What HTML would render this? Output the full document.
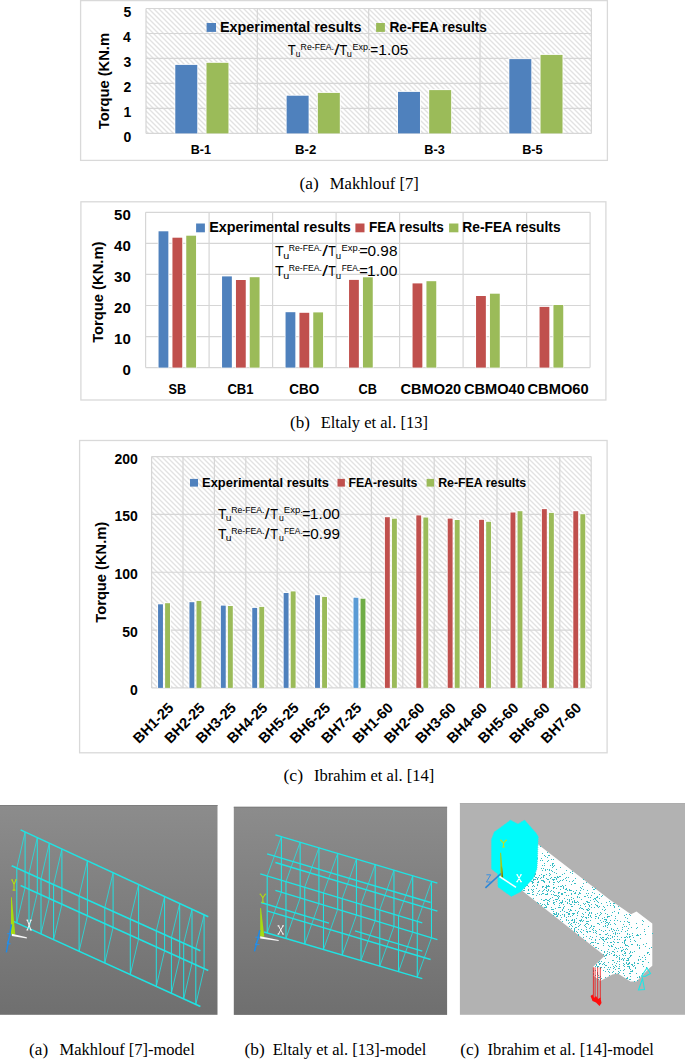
<!DOCTYPE html>
<html><head><meta charset="utf-8"><title>Figure</title>
<style>
html,body{margin:0;padding:0;background:#fff;width:685px;height:1059px;overflow:hidden}
svg{display:block}
text{font-family:"Liberation Sans",sans-serif}
</style></head><body>
<svg width="685" height="1059" viewBox="0 0 685 1059">
<defs>
<pattern id="hatch" patternUnits="userSpaceOnUse" width="5" height="5">
<rect width="5" height="5" fill="#fff"/>
<path d="M-1,-1 L6,6 M-1,4 L1,6 M4,-1 L6,1" stroke="#e2e2e2" stroke-width="1.35"/>
</pattern>
<linearGradient id="gA" x1="0" y1="0" x2="0" y2="1"><stop offset="0" stop-color="#8c8c8c"/><stop offset="1" stop-color="#6f6f6f"/></linearGradient>
<pattern id="dots" patternUnits="userSpaceOnUse" width="13" height="11">
<rect x="1" y="2" width="1" height="1" fill="#3cc4c4"/><rect x="7" y="1" width="1" height="1" fill="#3cc4c4"/><rect x="4" y="6" width="1" height="1" fill="#3cc4c4"/><rect x="10" y="5" width="1" height="1" fill="#3cc4c4"/><rect x="2" y="9" width="1" height="1" fill="#3cc4c4"/><rect x="9" y="9" width="1" height="1" fill="#3cc4c4"/><rect x="12" y="8" width="1" height="1" fill="#3cc4c4"/>
</pattern>
</defs>
<rect x="80.6" y="0.6" width="526.8" height="159.8" fill="none" stroke="#d9d9d9" stroke-width="1.3"/>
<rect x="146" y="8.5" width="445.4" height="124.9" fill="url(#hatch)"/>
<line x1="146" y1="8.5" x2="591.4" y2="8.5" stroke="#d6d6d6" stroke-width="1.2"/>
<line x1="146" y1="33.48" x2="591.4" y2="33.48" stroke="#d6d6d6" stroke-width="1.2"/>
<line x1="146" y1="58.46" x2="591.4" y2="58.46" stroke="#d6d6d6" stroke-width="1.2"/>
<line x1="146" y1="83.44" x2="591.4" y2="83.44" stroke="#d6d6d6" stroke-width="1.2"/>
<line x1="146" y1="108.42" x2="591.4" y2="108.42" stroke="#d6d6d6" stroke-width="1.2"/>
<line x1="146" y1="133.4" x2="591.4" y2="133.4" stroke="#d6d6d6" stroke-width="1.2"/>
<line x1="146" y1="8.5" x2="146" y2="133.4" stroke="#d6d6d6" stroke-width="1.2"/>
<line x1="257.35" y1="8.5" x2="257.35" y2="133.4" stroke="#d6d6d6" stroke-width="1.2"/>
<line x1="368.7" y1="8.5" x2="368.7" y2="133.4" stroke="#d6d6d6" stroke-width="1.2"/>
<line x1="480.05" y1="8.5" x2="480.05" y2="133.4" stroke="#d6d6d6" stroke-width="1.2"/>
<line x1="591.4" y1="8.5" x2="591.4" y2="133.4" stroke="#d6d6d6" stroke-width="1.2"/>
<rect x="174.47" y="64.1" width="23.6" height="69.3" fill="#fff"/>
<rect x="175.28" y="64.9" width="22" height="68.5" fill="#4F81BD"/>
<rect x="205.68" y="62" width="23.6" height="71.4" fill="#fff"/>
<rect x="206.48" y="62.8" width="22" height="70.6" fill="#9BBB59"/>
<rect x="285.82" y="94.9" width="23.6" height="38.5" fill="#fff"/>
<rect x="286.62" y="95.7" width="22" height="37.7" fill="#4F81BD"/>
<rect x="317.02" y="92.1" width="23.6" height="41.3" fill="#fff"/>
<rect x="317.82" y="92.9" width="22" height="40.5" fill="#9BBB59"/>
<rect x="397.18" y="91.1" width="23.6" height="42.3" fill="#fff"/>
<rect x="397.98" y="91.9" width="22" height="41.5" fill="#4F81BD"/>
<rect x="428.38" y="89.3" width="23.6" height="44.1" fill="#fff"/>
<rect x="429.18" y="90.1" width="22" height="43.3" fill="#9BBB59"/>
<rect x="508.52" y="58.3" width="23.6" height="75.1" fill="#fff"/>
<rect x="509.32" y="59.1" width="22" height="74.3" fill="#4F81BD"/>
<rect x="539.72" y="54.1" width="23.6" height="79.3" fill="#fff"/>
<rect x="540.52" y="54.9" width="22" height="78.5" fill="#9BBB59"/>
<text x="123.38" y="16.7" font-size="14" font-weight="bold" style="font-family:&quot;Liberation Sans&quot;,sans-serif" textLength="7.79" lengthAdjust="spacingAndGlyphs" fill="#000">5</text>
<text x="123.1" y="41.7" font-size="14" font-weight="bold" style="font-family:&quot;Liberation Sans&quot;,sans-serif" textLength="7.79" lengthAdjust="spacingAndGlyphs" fill="#000">4</text>
<text x="123.52" y="66.7" font-size="14" font-weight="bold" style="font-family:&quot;Liberation Sans&quot;,sans-serif" textLength="7.79" lengthAdjust="spacingAndGlyphs" fill="#000">3</text>
<text x="123.59" y="91.7" font-size="14" font-weight="bold" style="font-family:&quot;Liberation Sans&quot;,sans-serif" textLength="7.79" lengthAdjust="spacingAndGlyphs" fill="#000">2</text>
<text x="123.38" y="116.7" font-size="14" font-weight="bold" style="font-family:&quot;Liberation Sans&quot;,sans-serif" textLength="7.79" lengthAdjust="spacingAndGlyphs" fill="#000">1</text>
<text x="123.59" y="141.7" font-size="14" font-weight="bold" style="font-family:&quot;Liberation Sans&quot;,sans-serif" textLength="7.79" lengthAdjust="spacingAndGlyphs" fill="#000">0</text>
<text x="-0.15" y="0" font-size="15" font-weight="bold" style="font-family:&quot;Liberation Sans&quot;,sans-serif" textLength="96.18" lengthAdjust="spacingAndGlyphs" fill="#000" transform="translate(109.1,129) rotate(-90)">Torque (KN.m</text>
<rect x="206.6" y="23" width="9.4" height="8.9" fill="#4F81BD"/>
<text x="219.97" y="32" font-size="14.3" font-weight="bold" style="font-family:&quot;Liberation Sans&quot;,sans-serif" textLength="141.45" lengthAdjust="spacingAndGlyphs" fill="#000">Experimental results</text>
<rect x="376.1" y="23" width="8.8" height="8.9" fill="#9BBB59"/>
<text x="389.51" y="32" font-size="14.3" font-weight="bold" style="font-family:&quot;Liberation Sans&quot;,sans-serif" textLength="97.35" lengthAdjust="spacingAndGlyphs" fill="#000">Re-FEA results</text>
<text x="190.78" y="153.6" font-size="12.6" font-weight="bold" style="font-family:&quot;Liberation Sans&quot;,sans-serif" textLength="20.25" lengthAdjust="spacingAndGlyphs" fill="#000">B-1</text>
<text x="295.14" y="153.6" font-size="12.6" font-weight="bold" style="font-family:&quot;Liberation Sans&quot;,sans-serif" textLength="21.2" lengthAdjust="spacingAndGlyphs" fill="#000">B-2</text>
<text x="424.37" y="153.6" font-size="12.6" font-weight="bold" style="font-family:&quot;Liberation Sans&quot;,sans-serif" textLength="20.49" lengthAdjust="spacingAndGlyphs" fill="#000">B-3</text>
<text x="522.17" y="153.6" font-size="12.6" font-weight="bold" style="font-family:&quot;Liberation Sans&quot;,sans-serif" textLength="20.46" lengthAdjust="spacingAndGlyphs" fill="#000">B-5</text>
<text x="287.64" y="54.7" font-size="15.2" style="font-family:&quot;Liberation Sans&quot;,sans-serif" textLength="8.04" lengthAdjust="spacingAndGlyphs" fill="#000">T</text>
<text x="295.66" y="57.1" font-size="9" style="font-family:&quot;Liberation Sans&quot;,sans-serif" textLength="4.58" lengthAdjust="spacingAndGlyphs" fill="#000">u</text>
<text x="300.6" y="49.6" font-size="9" style="font-family:&quot;Liberation Sans&quot;,sans-serif" textLength="33.42" lengthAdjust="spacingAndGlyphs" fill="#000">Re-FEA.</text>
<text x="334.2" y="54.7" font-size="15.2" style="font-family:&quot;Liberation Sans&quot;,sans-serif" textLength="5.26" lengthAdjust="spacingAndGlyphs" fill="#000">/</text>
<text x="339.24" y="54.7" font-size="15.2" style="font-family:&quot;Liberation Sans&quot;,sans-serif" textLength="8.04" lengthAdjust="spacingAndGlyphs" fill="#000">T</text>
<text x="346.8" y="57.1" font-size="9" style="font-family:&quot;Liberation Sans&quot;,sans-serif" textLength="5.1" lengthAdjust="spacingAndGlyphs" fill="#000">u</text>
<text x="352.58" y="49.6" font-size="9" style="font-family:&quot;Liberation Sans&quot;,sans-serif" textLength="17.93" lengthAdjust="spacingAndGlyphs" fill="#000">Exp.</text>
<text x="370.32" y="54.7" font-size="15.2" style="font-family:&quot;Liberation Sans&quot;,sans-serif" textLength="7.95" lengthAdjust="spacingAndGlyphs" fill="#000">=</text>
<text x="378.34" y="54.7" font-size="15.2" style="font-family:&quot;Liberation Sans&quot;,sans-serif" textLength="29.99" lengthAdjust="spacingAndGlyphs" fill="#000">1.05</text>
<text x="299.42" y="188.8" font-size="16.2" style="font-family:&quot;Liberation Serif&quot;,serif" textLength="19.26" lengthAdjust="spacingAndGlyphs" fill="#000">(a)</text>
<text x="329.8" y="188.8" font-size="16.2" style="font-family:&quot;Liberation Serif&quot;,serif" textLength="88.94" lengthAdjust="spacingAndGlyphs" fill="#000">Makhlouf [7]</text>
<rect x="80.9" y="201.8" width="525" height="198.2" fill="none" stroke="#d9d9d9" stroke-width="1.3"/>
<line x1="145.6" y1="212.3" x2="590.1" y2="212.3" stroke="#d6d6d6" stroke-width="1.2"/>
<line x1="145.6" y1="243.36" x2="590.1" y2="243.36" stroke="#d6d6d6" stroke-width="1.2"/>
<line x1="145.6" y1="274.42" x2="590.1" y2="274.42" stroke="#d6d6d6" stroke-width="1.2"/>
<line x1="145.6" y1="305.48" x2="590.1" y2="305.48" stroke="#d6d6d6" stroke-width="1.2"/>
<line x1="145.6" y1="336.54" x2="590.1" y2="336.54" stroke="#d6d6d6" stroke-width="1.2"/>
<line x1="145.6" y1="367.6" x2="590.1" y2="367.6" stroke="#d6d6d6" stroke-width="1.2"/>
<line x1="145.6" y1="212.3" x2="145.6" y2="367.6" stroke="#d6d6d6" stroke-width="1.2"/>
<line x1="209.1" y1="212.3" x2="209.1" y2="367.6" stroke="#d6d6d6" stroke-width="1.2"/>
<line x1="272.6" y1="212.3" x2="272.6" y2="367.6" stroke="#d6d6d6" stroke-width="1.2"/>
<line x1="336.1" y1="212.3" x2="336.1" y2="367.6" stroke="#d6d6d6" stroke-width="1.2"/>
<line x1="399.6" y1="212.3" x2="399.6" y2="367.6" stroke="#d6d6d6" stroke-width="1.2"/>
<line x1="463.1" y1="212.3" x2="463.1" y2="367.6" stroke="#d6d6d6" stroke-width="1.2"/>
<line x1="526.6" y1="212.3" x2="526.6" y2="367.6" stroke="#d6d6d6" stroke-width="1.2"/>
<line x1="590.1" y1="212.3" x2="590.1" y2="367.6" stroke="#d6d6d6" stroke-width="1.2"/>
<rect x="157.75" y="230.5" width="11.4" height="137.1" fill="#fff"/>
<rect x="158.55" y="231.3" width="9.8" height="136.3" fill="#4F81BD"/>
<rect x="171.65" y="236.9" width="11.4" height="130.7" fill="#fff"/>
<rect x="172.45" y="237.7" width="9.8" height="129.9" fill="#C0504D"/>
<rect x="185.45" y="234.9" width="11.4" height="132.7" fill="#fff"/>
<rect x="186.25" y="235.7" width="9.8" height="131.9" fill="#9BBB59"/>
<rect x="221.25" y="275.6" width="11.4" height="92" fill="#fff"/>
<rect x="222.05" y="276.4" width="9.8" height="91.2" fill="#4F81BD"/>
<rect x="235.15" y="279.2" width="11.4" height="88.4" fill="#fff"/>
<rect x="235.95" y="280" width="9.8" height="87.6" fill="#C0504D"/>
<rect x="248.95" y="276.4" width="11.4" height="91.2" fill="#fff"/>
<rect x="249.75" y="277.2" width="9.8" height="90.4" fill="#9BBB59"/>
<rect x="284.75" y="311.4" width="11.4" height="56.2" fill="#fff"/>
<rect x="285.55" y="312.2" width="9.8" height="55.4" fill="#4F81BD"/>
<rect x="298.65" y="312" width="11.4" height="55.6" fill="#fff"/>
<rect x="299.45" y="312.8" width="9.8" height="54.8" fill="#C0504D"/>
<rect x="312.45" y="311.6" width="11.4" height="56" fill="#fff"/>
<rect x="313.25" y="312.4" width="9.8" height="55.2" fill="#9BBB59"/>
<rect x="348.25" y="279.1" width="11.4" height="88.5" fill="#fff"/>
<rect x="349.05" y="279.9" width="9.8" height="87.7" fill="#C0504D"/>
<rect x="362.15" y="276.5" width="11.4" height="91.1" fill="#fff"/>
<rect x="362.95" y="277.3" width="9.8" height="90.3" fill="#9BBB59"/>
<rect x="411.75" y="282.6" width="11.4" height="85" fill="#fff"/>
<rect x="412.55" y="283.4" width="9.8" height="84.2" fill="#C0504D"/>
<rect x="425.65" y="280.4" width="11.4" height="87.2" fill="#fff"/>
<rect x="426.45" y="281.2" width="9.8" height="86.4" fill="#9BBB59"/>
<rect x="475.25" y="295.2" width="11.4" height="72.4" fill="#fff"/>
<rect x="476.05" y="296" width="9.8" height="71.6" fill="#C0504D"/>
<rect x="489.15" y="292.9" width="11.4" height="74.7" fill="#fff"/>
<rect x="489.95" y="293.7" width="9.8" height="73.9" fill="#9BBB59"/>
<rect x="538.75" y="306.1" width="11.4" height="61.5" fill="#fff"/>
<rect x="539.55" y="306.9" width="9.8" height="60.7" fill="#C0504D"/>
<rect x="552.65" y="304.2" width="11.4" height="63.4" fill="#fff"/>
<rect x="553.45" y="305" width="9.8" height="62.6" fill="#9BBB59"/>
<text x="114.05" y="220.1" font-size="15" font-weight="bold" style="font-family:&quot;Liberation Sans&quot;,sans-serif" textLength="16.69" lengthAdjust="spacingAndGlyphs" fill="#000">50</text>
<text x="114.05" y="251.16" font-size="15" font-weight="bold" style="font-family:&quot;Liberation Sans&quot;,sans-serif" textLength="16.69" lengthAdjust="spacingAndGlyphs" fill="#000">40</text>
<text x="114.05" y="282.22" font-size="15" font-weight="bold" style="font-family:&quot;Liberation Sans&quot;,sans-serif" textLength="16.69" lengthAdjust="spacingAndGlyphs" fill="#000">30</text>
<text x="114.05" y="313.28" font-size="15" font-weight="bold" style="font-family:&quot;Liberation Sans&quot;,sans-serif" textLength="16.69" lengthAdjust="spacingAndGlyphs" fill="#000">20</text>
<text x="114.05" y="344.34" font-size="15" font-weight="bold" style="font-family:&quot;Liberation Sans&quot;,sans-serif" textLength="16.69" lengthAdjust="spacingAndGlyphs" fill="#000">10</text>
<text x="122.38" y="375.4" font-size="15" font-weight="bold" style="font-family:&quot;Liberation Sans&quot;,sans-serif" textLength="8.34" lengthAdjust="spacingAndGlyphs" fill="#000">0</text>
<text x="-0.15" y="0" font-size="15" font-weight="bold" style="font-family:&quot;Liberation Sans&quot;,sans-serif" textLength="101.28" lengthAdjust="spacingAndGlyphs" fill="#000" transform="translate(103.4,342.7) rotate(-90)">Torque (KN.m)</text>
<rect x="196.1" y="223.5" width="8.8" height="8.8" fill="#4F81BD"/>
<text x="209.16" y="232.3" font-size="14.6" font-weight="bold" style="font-family:&quot;Liberation Sans&quot;,sans-serif" textLength="141.65" lengthAdjust="spacingAndGlyphs" fill="#000">Experimental results</text>
<rect x="355.4" y="223.5" width="9.1" height="8.8" fill="#C0504D"/>
<text x="368.92" y="232.3" font-size="14.6" font-weight="bold" style="font-family:&quot;Liberation Sans&quot;,sans-serif" textLength="75.03" lengthAdjust="spacingAndGlyphs" fill="#000">FEA results</text>
<rect x="449.1" y="223.5" width="9.3" height="8.8" fill="#9BBB59"/>
<text x="462.3" y="232.3" font-size="14.6" font-weight="bold" style="font-family:&quot;Liberation Sans&quot;,sans-serif" textLength="98.27" lengthAdjust="spacingAndGlyphs" fill="#000">Re-FEA results</text>
<text x="274.91" y="255.8" font-size="15.2" style="font-family:&quot;Liberation Sans&quot;,sans-serif" textLength="8.79" lengthAdjust="spacingAndGlyphs" fill="#000">T</text>
<text x="283.3" y="258.7" font-size="9" style="font-family:&quot;Liberation Sans&quot;,sans-serif" textLength="6.02" lengthAdjust="spacingAndGlyphs" fill="#000">u</text>
<text x="288.81" y="250.8" font-size="9" style="font-family:&quot;Liberation Sans&quot;,sans-serif" textLength="33.21" lengthAdjust="spacingAndGlyphs" fill="#000">Re-FEA.</text>
<text x="322.2" y="255.8" font-size="15.2" style="font-family:&quot;Liberation Sans&quot;,sans-serif" textLength="5.75" lengthAdjust="spacingAndGlyphs" fill="#000">/</text>
<text x="328.15" y="255.8" font-size="15.2" style="font-family:&quot;Liberation Sans&quot;,sans-serif" textLength="7.61" lengthAdjust="spacingAndGlyphs" fill="#000">T</text>
<text x="335.87" y="258.7" font-size="9" style="font-family:&quot;Liberation Sans&quot;,sans-serif" textLength="5.37" lengthAdjust="spacingAndGlyphs" fill="#000">u</text>
<text x="341.55" y="250.8" font-size="9" style="font-family:&quot;Liberation Sans&quot;,sans-serif" textLength="18.7" lengthAdjust="spacingAndGlyphs" fill="#000">Exp.</text>
<text x="359.26" y="255.8" font-size="15.2" style="font-family:&quot;Liberation Sans&quot;,sans-serif" textLength="8.67" lengthAdjust="spacingAndGlyphs" fill="#000">=</text>
<text x="367.59" y="255.8" font-size="15.2" style="font-family:&quot;Liberation Sans&quot;,sans-serif" textLength="29.85" lengthAdjust="spacingAndGlyphs" fill="#000">0.98</text>
<text x="274.91" y="275.9" font-size="15.2" style="font-family:&quot;Liberation Sans&quot;,sans-serif" textLength="8.79" lengthAdjust="spacingAndGlyphs" fill="#000">T</text>
<text x="283.3" y="278.5" font-size="9" style="font-family:&quot;Liberation Sans&quot;,sans-serif" textLength="6.02" lengthAdjust="spacingAndGlyphs" fill="#000">u</text>
<text x="288.81" y="270.9" font-size="9" style="font-family:&quot;Liberation Sans&quot;,sans-serif" textLength="33.21" lengthAdjust="spacingAndGlyphs" fill="#000">Re-FEA.</text>
<text x="322.2" y="275.9" font-size="15.2" style="font-family:&quot;Liberation Sans&quot;,sans-serif" textLength="5.75" lengthAdjust="spacingAndGlyphs" fill="#000">/</text>
<text x="328.15" y="275.9" font-size="15.2" style="font-family:&quot;Liberation Sans&quot;,sans-serif" textLength="7.61" lengthAdjust="spacingAndGlyphs" fill="#000">T</text>
<text x="335.87" y="278.5" font-size="9" style="font-family:&quot;Liberation Sans&quot;,sans-serif" textLength="5.37" lengthAdjust="spacingAndGlyphs" fill="#000">u</text>
<text x="341.63" y="270.9" font-size="9" style="font-family:&quot;Liberation Sans&quot;,sans-serif" textLength="18.54" lengthAdjust="spacingAndGlyphs" fill="#000">FEA.</text>
<text x="359.26" y="275.9" font-size="15.2" style="font-family:&quot;Liberation Sans&quot;,sans-serif" textLength="8.67" lengthAdjust="spacingAndGlyphs" fill="#000">=</text>
<text x="367.03" y="275.9" font-size="15.2" style="font-family:&quot;Liberation Sans&quot;,sans-serif" textLength="30.34" lengthAdjust="spacingAndGlyphs" fill="#000">1.00</text>
<text x="168.42" y="393.7" font-size="14.4" font-weight="bold" style="font-family:&quot;Liberation Sans&quot;,sans-serif" textLength="17.71" lengthAdjust="spacingAndGlyphs" fill="#000">SB</text>
<text x="227.38" y="393.7" font-size="14.4" font-weight="bold" style="font-family:&quot;Liberation Sans&quot;,sans-serif" textLength="26.05" lengthAdjust="spacingAndGlyphs" fill="#000">CB1</text>
<text x="289.26" y="393.7" font-size="14.4" font-weight="bold" style="font-family:&quot;Liberation Sans&quot;,sans-serif" textLength="29.91" lengthAdjust="spacingAndGlyphs" fill="#000">CBO</text>
<text x="358.59" y="393.7" font-size="14.4" font-weight="bold" style="font-family:&quot;Liberation Sans&quot;,sans-serif" textLength="18.33" lengthAdjust="spacingAndGlyphs" fill="#000">CB</text>
<text x="400.62" y="393.7" font-size="14.4" font-weight="bold" style="font-family:&quot;Liberation Sans&quot;,sans-serif" textLength="60.6" lengthAdjust="spacingAndGlyphs" fill="#000">CBMO20</text>
<text x="463.92" y="393.7" font-size="14.4" font-weight="bold" style="font-family:&quot;Liberation Sans&quot;,sans-serif" textLength="60.91" lengthAdjust="spacingAndGlyphs" fill="#000">CBMO40</text>
<text x="527.51" y="393.7" font-size="14.4" font-weight="bold" style="font-family:&quot;Liberation Sans&quot;,sans-serif" textLength="61.21" lengthAdjust="spacingAndGlyphs" fill="#000">CBMO60</text>
<text x="290.13" y="427.6" font-size="16.2" style="font-family:&quot;Liberation Serif&quot;,serif" textLength="19.87" lengthAdjust="spacingAndGlyphs" fill="#000">(b)</text>
<text x="320.7" y="427.6" font-size="16.2" style="font-family:&quot;Liberation Serif&quot;,serif" textLength="107.29" lengthAdjust="spacingAndGlyphs" fill="#000">Eltaly et al. [13]</text>
<rect x="79.6" y="440.5" width="527.5" height="312.3" fill="none" stroke="#d9d9d9" stroke-width="1.3"/>
<rect x="151.6" y="456.6" width="439.6" height="231.3" fill="url(#hatch)"/>
<line x1="151.6" y1="456.6" x2="591.2" y2="456.6" stroke="#d6d6d6" stroke-width="1.2"/>
<line x1="151.6" y1="514.42" x2="591.2" y2="514.42" stroke="#d6d6d6" stroke-width="1.2"/>
<line x1="151.6" y1="572.25" x2="591.2" y2="572.25" stroke="#d6d6d6" stroke-width="1.2"/>
<line x1="151.6" y1="630.08" x2="591.2" y2="630.08" stroke="#d6d6d6" stroke-width="1.2"/>
<line x1="151.6" y1="687.9" x2="591.2" y2="687.9" stroke="#d6d6d6" stroke-width="1.2"/>
<line x1="151.6" y1="456.6" x2="151.6" y2="687.9" stroke="#d6d6d6" stroke-width="1.2"/>
<line x1="183" y1="456.6" x2="183" y2="687.9" stroke="#d6d6d6" stroke-width="1.2"/>
<line x1="214.4" y1="456.6" x2="214.4" y2="687.9" stroke="#d6d6d6" stroke-width="1.2"/>
<line x1="245.8" y1="456.6" x2="245.8" y2="687.9" stroke="#d6d6d6" stroke-width="1.2"/>
<line x1="277.2" y1="456.6" x2="277.2" y2="687.9" stroke="#d6d6d6" stroke-width="1.2"/>
<line x1="308.6" y1="456.6" x2="308.6" y2="687.9" stroke="#d6d6d6" stroke-width="1.2"/>
<line x1="340" y1="456.6" x2="340" y2="687.9" stroke="#d6d6d6" stroke-width="1.2"/>
<line x1="371.4" y1="456.6" x2="371.4" y2="687.9" stroke="#d6d6d6" stroke-width="1.2"/>
<line x1="402.8" y1="456.6" x2="402.8" y2="687.9" stroke="#d6d6d6" stroke-width="1.2"/>
<line x1="434.2" y1="456.6" x2="434.2" y2="687.9" stroke="#d6d6d6" stroke-width="1.2"/>
<line x1="465.6" y1="456.6" x2="465.6" y2="687.9" stroke="#d6d6d6" stroke-width="1.2"/>
<line x1="497" y1="456.6" x2="497" y2="687.9" stroke="#d6d6d6" stroke-width="1.2"/>
<line x1="528.4" y1="456.6" x2="528.4" y2="687.9" stroke="#d6d6d6" stroke-width="1.2"/>
<line x1="559.8" y1="456.6" x2="559.8" y2="687.9" stroke="#d6d6d6" stroke-width="1.2"/>
<line x1="591.2" y1="456.6" x2="591.2" y2="687.9" stroke="#d6d6d6" stroke-width="1.2"/>
<rect x="157.25" y="603.5" width="6.5" height="84.4" fill="#fff"/>
<rect x="158.05" y="604.3" width="4.9" height="83.6" fill="#4F81BD"/>
<rect x="164.3" y="602.4" width="6.5" height="85.5" fill="#fff"/>
<rect x="165.1" y="603.2" width="4.9" height="84.7" fill="#9BBB59"/>
<rect x="188.65" y="601.4" width="6.5" height="86.5" fill="#fff"/>
<rect x="189.45" y="602.2" width="4.9" height="85.7" fill="#4F81BD"/>
<rect x="195.7" y="600.1" width="6.5" height="87.8" fill="#fff"/>
<rect x="196.5" y="600.9" width="4.9" height="87" fill="#9BBB59"/>
<rect x="220.05" y="604.8" width="6.5" height="83.1" fill="#fff"/>
<rect x="220.85" y="605.6" width="4.9" height="82.3" fill="#4F81BD"/>
<rect x="227.1" y="605.2" width="6.5" height="82.7" fill="#fff"/>
<rect x="227.9" y="606" width="4.9" height="81.9" fill="#9BBB59"/>
<rect x="251.45" y="607.1" width="6.5" height="80.8" fill="#fff"/>
<rect x="252.25" y="607.9" width="4.9" height="80" fill="#4F81BD"/>
<rect x="258.5" y="606.1" width="6.5" height="81.8" fill="#fff"/>
<rect x="259.3" y="606.9" width="4.9" height="81" fill="#9BBB59"/>
<rect x="282.85" y="592.2" width="6.5" height="95.7" fill="#fff"/>
<rect x="283.65" y="593" width="4.9" height="94.9" fill="#4F81BD"/>
<rect x="289.9" y="590.6" width="6.5" height="97.3" fill="#fff"/>
<rect x="290.7" y="591.4" width="4.9" height="96.5" fill="#9BBB59"/>
<rect x="314.25" y="594.4" width="6.5" height="93.5" fill="#fff"/>
<rect x="315.05" y="595.2" width="4.9" height="92.7" fill="#4F81BD"/>
<rect x="321.3" y="596.1" width="6.5" height="91.8" fill="#fff"/>
<rect x="322.1" y="596.9" width="4.9" height="91" fill="#9BBB59"/>
<rect x="352.7" y="596.9" width="6.5" height="91" fill="#fff"/>
<rect x="353.5" y="597.7" width="4.9" height="90.2" fill="#5B9BD5"/>
<rect x="359.75" y="597.9" width="6.5" height="90" fill="#fff"/>
<rect x="360.55" y="598.7" width="4.9" height="89.2" fill="#70AD47"/>
<rect x="384.1" y="516.4" width="6.5" height="171.5" fill="#fff"/>
<rect x="384.9" y="517.2" width="4.9" height="170.7" fill="#C0504D"/>
<rect x="391.15" y="517.9" width="6.5" height="170" fill="#fff"/>
<rect x="391.95" y="518.7" width="4.9" height="169.2" fill="#9BBB59"/>
<rect x="415.5" y="514.6" width="6.5" height="173.3" fill="#fff"/>
<rect x="416.3" y="515.4" width="4.9" height="172.5" fill="#C0504D"/>
<rect x="422.55" y="516.7" width="6.5" height="171.2" fill="#fff"/>
<rect x="423.35" y="517.5" width="4.9" height="170.4" fill="#9BBB59"/>
<rect x="446.9" y="517.8" width="6.5" height="170.1" fill="#fff"/>
<rect x="447.7" y="518.6" width="4.9" height="169.3" fill="#C0504D"/>
<rect x="453.95" y="519.2" width="6.5" height="168.7" fill="#fff"/>
<rect x="454.75" y="520" width="4.9" height="167.9" fill="#9BBB59"/>
<rect x="478.3" y="519" width="6.5" height="168.9" fill="#fff"/>
<rect x="479.1" y="519.8" width="4.9" height="168.1" fill="#C0504D"/>
<rect x="485.35" y="521" width="6.5" height="166.9" fill="#fff"/>
<rect x="486.15" y="521.8" width="4.9" height="166.1" fill="#9BBB59"/>
<rect x="509.7" y="511.7" width="6.5" height="176.2" fill="#fff"/>
<rect x="510.5" y="512.5" width="4.9" height="175.4" fill="#C0504D"/>
<rect x="516.75" y="510.4" width="6.5" height="177.5" fill="#fff"/>
<rect x="517.55" y="511.2" width="4.9" height="176.7" fill="#9BBB59"/>
<rect x="541.1" y="508.3" width="6.5" height="179.6" fill="#fff"/>
<rect x="541.9" y="509.1" width="4.9" height="178.8" fill="#C0504D"/>
<rect x="548.15" y="512.1" width="6.5" height="175.8" fill="#fff"/>
<rect x="548.95" y="512.9" width="4.9" height="175" fill="#9BBB59"/>
<rect x="572.5" y="510.4" width="6.5" height="177.5" fill="#fff"/>
<rect x="573.3" y="511.2" width="4.9" height="176.7" fill="#C0504D"/>
<rect x="579.55" y="513.4" width="6.5" height="174.5" fill="#fff"/>
<rect x="580.35" y="514.2" width="4.9" height="173.7" fill="#9BBB59"/>
<text x="114.45" y="463.6" font-size="14" font-weight="bold" style="font-family:&quot;Liberation Sans&quot;,sans-serif" textLength="23.36" lengthAdjust="spacingAndGlyphs" fill="#000">200</text>
<text x="114.45" y="521.42" font-size="14" font-weight="bold" style="font-family:&quot;Liberation Sans&quot;,sans-serif" textLength="23.36" lengthAdjust="spacingAndGlyphs" fill="#000">150</text>
<text x="114.45" y="579.25" font-size="14" font-weight="bold" style="font-family:&quot;Liberation Sans&quot;,sans-serif" textLength="23.36" lengthAdjust="spacingAndGlyphs" fill="#000">100</text>
<text x="122.22" y="637.08" font-size="14" font-weight="bold" style="font-family:&quot;Liberation Sans&quot;,sans-serif" textLength="15.57" lengthAdjust="spacingAndGlyphs" fill="#000">50</text>
<text x="129.99" y="694.9" font-size="14" font-weight="bold" style="font-family:&quot;Liberation Sans&quot;,sans-serif" textLength="7.79" lengthAdjust="spacingAndGlyphs" fill="#000">0</text>
<text x="-0.15" y="0" font-size="15" font-weight="bold" style="font-family:&quot;Liberation Sans&quot;,sans-serif" textLength="100.78" lengthAdjust="spacingAndGlyphs" fill="#000" transform="translate(105.7,622.5) rotate(-90)">Torque (KN.m)</text>
<rect x="190" y="478.9" width="8" height="7.7" fill="#4F81BD"/>
<text x="202.06" y="486.5" font-size="12.6" font-weight="bold" style="font-family:&quot;Liberation Sans&quot;,sans-serif" textLength="126.89" lengthAdjust="spacingAndGlyphs" fill="#000">Experimental results</text>
<rect x="337.5" y="478.9" width="7.4" height="7.7" fill="#C0504D"/>
<text x="348.4" y="486.5" font-size="12.6" font-weight="bold" style="font-family:&quot;Liberation Sans&quot;,sans-serif" textLength="69.02" lengthAdjust="spacingAndGlyphs" fill="#000">FEA-results</text>
<rect x="426.6" y="478.9" width="7.4" height="7.7" fill="#9BBB59"/>
<text x="438.2" y="486.5" font-size="12.6" font-weight="bold" style="font-family:&quot;Liberation Sans&quot;,sans-serif" textLength="88.02" lengthAdjust="spacingAndGlyphs" fill="#000">Re-FEA results</text>
<text x="217.92" y="518.6" font-size="15.2" style="font-family:&quot;Liberation Sans&quot;,sans-serif" textLength="8.47" lengthAdjust="spacingAndGlyphs" fill="#000">T</text>
<text x="225.73" y="520.7" font-size="9" style="font-family:&quot;Liberation Sans&quot;,sans-serif" textLength="5.76" lengthAdjust="spacingAndGlyphs" fill="#000">u</text>
<text x="231.2" y="513.4" font-size="9" style="font-family:&quot;Liberation Sans&quot;,sans-serif" textLength="33.31" lengthAdjust="spacingAndGlyphs" fill="#000">Re-FEA.</text>
<text x="264.8" y="518.6" font-size="15.2" style="font-family:&quot;Liberation Sans&quot;,sans-serif" textLength="4.86" lengthAdjust="spacingAndGlyphs" fill="#000">/</text>
<text x="270.24" y="518.6" font-size="15.2" style="font-family:&quot;Liberation Sans&quot;,sans-serif" textLength="7.82" lengthAdjust="spacingAndGlyphs" fill="#000">T</text>
<text x="278.93" y="520.7" font-size="9" style="font-family:&quot;Liberation Sans&quot;,sans-serif" textLength="4.84" lengthAdjust="spacingAndGlyphs" fill="#000">u</text>
<text x="283.84" y="513.4" font-size="9" style="font-family:&quot;Liberation Sans&quot;,sans-serif" textLength="19.03" lengthAdjust="spacingAndGlyphs" fill="#000">Exp.</text>
<text x="302.3" y="518.6" font-size="15.2" style="font-family:&quot;Liberation Sans&quot;,sans-serif" textLength="8.19" lengthAdjust="spacingAndGlyphs" fill="#000">=</text>
<text x="309.84" y="518.6" font-size="15.2" style="font-family:&quot;Liberation Sans&quot;,sans-serif" textLength="30.12" lengthAdjust="spacingAndGlyphs" fill="#000">1.00</text>
<text x="217.92" y="538.7" font-size="15.2" style="font-family:&quot;Liberation Sans&quot;,sans-serif" textLength="8.47" lengthAdjust="spacingAndGlyphs" fill="#000">T</text>
<text x="225.73" y="540.8" font-size="9" style="font-family:&quot;Liberation Sans&quot;,sans-serif" textLength="5.76" lengthAdjust="spacingAndGlyphs" fill="#000">u</text>
<text x="231.2" y="533.5" font-size="9" style="font-family:&quot;Liberation Sans&quot;,sans-serif" textLength="33.31" lengthAdjust="spacingAndGlyphs" fill="#000">Re-FEA.</text>
<text x="264.8" y="538.7" font-size="15.2" style="font-family:&quot;Liberation Sans&quot;,sans-serif" textLength="4.86" lengthAdjust="spacingAndGlyphs" fill="#000">/</text>
<text x="270.24" y="538.7" font-size="15.2" style="font-family:&quot;Liberation Sans&quot;,sans-serif" textLength="7.82" lengthAdjust="spacingAndGlyphs" fill="#000">T</text>
<text x="278.93" y="540.8" font-size="9" style="font-family:&quot;Liberation Sans&quot;,sans-serif" textLength="4.84" lengthAdjust="spacingAndGlyphs" fill="#000">u</text>
<text x="283.92" y="533.5" font-size="9" style="font-family:&quot;Liberation Sans&quot;,sans-serif" textLength="18.87" lengthAdjust="spacingAndGlyphs" fill="#000">FEA.</text>
<text x="302.3" y="538.7" font-size="15.2" style="font-family:&quot;Liberation Sans&quot;,sans-serif" textLength="8.19" lengthAdjust="spacingAndGlyphs" fill="#000">=</text>
<text x="310.39" y="538.7" font-size="15.2" style="font-family:&quot;Liberation Sans&quot;,sans-serif" textLength="29.72" lengthAdjust="spacingAndGlyphs" fill="#000">0.99</text>
<text x="-0.94" y="0" font-size="14.6" font-weight="bold" style="font-family:&quot;Liberation Sans&quot;,sans-serif" textLength="49.92" lengthAdjust="spacingAndGlyphs" fill="#000" transform="translate(139.7,743.5) rotate(-45)">BH1-25</text>
<text x="-0.94" y="0" font-size="14.6" font-weight="bold" style="font-family:&quot;Liberation Sans&quot;,sans-serif" textLength="49.92" lengthAdjust="spacingAndGlyphs" fill="#000" transform="translate(171.06,743.5) rotate(-45)">BH2-25</text>
<text x="-0.94" y="0" font-size="14.6" font-weight="bold" style="font-family:&quot;Liberation Sans&quot;,sans-serif" textLength="49.92" lengthAdjust="spacingAndGlyphs" fill="#000" transform="translate(202.42,743.5) rotate(-45)">BH3-25</text>
<text x="-0.94" y="0" font-size="14.6" font-weight="bold" style="font-family:&quot;Liberation Sans&quot;,sans-serif" textLength="49.92" lengthAdjust="spacingAndGlyphs" fill="#000" transform="translate(233.78,743.5) rotate(-45)">BH4-25</text>
<text x="-0.94" y="0" font-size="14.6" font-weight="bold" style="font-family:&quot;Liberation Sans&quot;,sans-serif" textLength="49.92" lengthAdjust="spacingAndGlyphs" fill="#000" transform="translate(265.14,743.5) rotate(-45)">BH5-25</text>
<text x="-0.94" y="0" font-size="14.6" font-weight="bold" style="font-family:&quot;Liberation Sans&quot;,sans-serif" textLength="49.92" lengthAdjust="spacingAndGlyphs" fill="#000" transform="translate(296.5,743.5) rotate(-45)">BH6-25</text>
<text x="-0.94" y="0" font-size="14.6" font-weight="bold" style="font-family:&quot;Liberation Sans&quot;,sans-serif" textLength="49.92" lengthAdjust="spacingAndGlyphs" fill="#000" transform="translate(327.86,743.5) rotate(-45)">BH7-25</text>
<text x="-0.95" y="0" font-size="14.6" font-weight="bold" style="font-family:&quot;Liberation Sans&quot;,sans-serif" textLength="50.14" lengthAdjust="spacingAndGlyphs" fill="#000" transform="translate(359.22,743.5) rotate(-45)">BH1-60</text>
<text x="-0.95" y="0" font-size="14.6" font-weight="bold" style="font-family:&quot;Liberation Sans&quot;,sans-serif" textLength="50.14" lengthAdjust="spacingAndGlyphs" fill="#000" transform="translate(390.58,743.5) rotate(-45)">BH2-60</text>
<text x="-0.95" y="0" font-size="14.6" font-weight="bold" style="font-family:&quot;Liberation Sans&quot;,sans-serif" textLength="50.14" lengthAdjust="spacingAndGlyphs" fill="#000" transform="translate(421.94,743.5) rotate(-45)">BH3-60</text>
<text x="-0.95" y="0" font-size="14.6" font-weight="bold" style="font-family:&quot;Liberation Sans&quot;,sans-serif" textLength="50.14" lengthAdjust="spacingAndGlyphs" fill="#000" transform="translate(453.3,743.5) rotate(-45)">BH4-60</text>
<text x="-0.95" y="0" font-size="14.6" font-weight="bold" style="font-family:&quot;Liberation Sans&quot;,sans-serif" textLength="50.14" lengthAdjust="spacingAndGlyphs" fill="#000" transform="translate(484.66,743.5) rotate(-45)">BH5-60</text>
<text x="-0.95" y="0" font-size="14.6" font-weight="bold" style="font-family:&quot;Liberation Sans&quot;,sans-serif" textLength="50.14" lengthAdjust="spacingAndGlyphs" fill="#000" transform="translate(516.02,743.5) rotate(-45)">BH6-60</text>
<text x="-0.95" y="0" font-size="14.6" font-weight="bold" style="font-family:&quot;Liberation Sans&quot;,sans-serif" textLength="50.14" lengthAdjust="spacingAndGlyphs" fill="#000" transform="translate(547.38,743.5) rotate(-45)">BH7-60</text>
<text x="283.4" y="780.7" font-size="16.2" style="font-family:&quot;Liberation Serif&quot;,serif" textLength="19.7" lengthAdjust="spacingAndGlyphs" fill="#000">(c)</text>
<text x="314.02" y="780.7" font-size="16.2" style="font-family:&quot;Liberation Serif&quot;,serif" textLength="120.32" lengthAdjust="spacingAndGlyphs" fill="#000">Ibrahim et al. [14]</text>
<rect x="0" y="805" width="217.5" height="209.8" fill="url(#gA)"/>
<rect x="0" y="805" width="217.5" height="1" fill="#7e7e7e"/>
<line x1="25.1" y1="831.98" x2="25.1" y2="887.54" stroke="#1fe3e3" stroke-width="1"/>
<line x1="16.8" y1="868.09" x2="16.8" y2="922.9" stroke="#1fe3e3" stroke-width="1"/>
<line x1="16.8" y1="868.09" x2="25.1" y2="831.98" stroke="#1fe3e3" stroke-width="0.8"/>
<line x1="16.8" y1="922.9" x2="25.1" y2="887.54" stroke="#1fe3e3" stroke-width="0.8"/>
<line x1="37.3" y1="837.63" x2="37.3" y2="893.06" stroke="#1fe3e3" stroke-width="1"/>
<line x1="29" y1="873.58" x2="29" y2="928.46" stroke="#1fe3e3" stroke-width="1"/>
<line x1="29" y1="873.58" x2="37.3" y2="837.63" stroke="#1fe3e3" stroke-width="0.8"/>
<line x1="29" y1="928.46" x2="37.3" y2="893.06" stroke="#1fe3e3" stroke-width="0.8"/>
<line x1="49.3" y1="843.19" x2="49.3" y2="898.5" stroke="#1fe3e3" stroke-width="1"/>
<line x1="41" y1="878.98" x2="41" y2="933.92" stroke="#1fe3e3" stroke-width="1"/>
<line x1="41" y1="878.98" x2="49.3" y2="843.19" stroke="#1fe3e3" stroke-width="0.8"/>
<line x1="41" y1="933.92" x2="49.3" y2="898.5" stroke="#1fe3e3" stroke-width="0.8"/>
<line x1="61.9" y1="849.02" x2="61.9" y2="904.2" stroke="#1fe3e3" stroke-width="1"/>
<line x1="53.6" y1="884.65" x2="53.6" y2="939.66" stroke="#1fe3e3" stroke-width="1"/>
<line x1="53.6" y1="884.65" x2="61.9" y2="849.02" stroke="#1fe3e3" stroke-width="0.8"/>
<line x1="53.6" y1="939.66" x2="61.9" y2="904.2" stroke="#1fe3e3" stroke-width="0.8"/>
<line x1="87.4" y1="860.83" x2="87.4" y2="915.75" stroke="#1fe3e3" stroke-width="1"/>
<line x1="79.1" y1="896.12" x2="79.1" y2="951.27" stroke="#1fe3e3" stroke-width="1"/>
<line x1="79.1" y1="896.12" x2="87.4" y2="860.83" stroke="#1fe3e3" stroke-width="0.8"/>
<line x1="79.1" y1="951.27" x2="87.4" y2="915.75" stroke="#1fe3e3" stroke-width="0.8"/>
<line x1="113.1" y1="872.72" x2="113.1" y2="927.39" stroke="#1fe3e3" stroke-width="1"/>
<line x1="104.8" y1="907.69" x2="104.8" y2="962.97" stroke="#1fe3e3" stroke-width="1"/>
<line x1="104.8" y1="907.69" x2="113.1" y2="872.72" stroke="#1fe3e3" stroke-width="0.8"/>
<line x1="104.8" y1="962.97" x2="113.1" y2="927.39" stroke="#1fe3e3" stroke-width="0.8"/>
<line x1="138.6" y1="884.53" x2="138.6" y2="938.94" stroke="#1fe3e3" stroke-width="1"/>
<line x1="130.3" y1="919.16" x2="130.3" y2="974.58" stroke="#1fe3e3" stroke-width="1"/>
<line x1="130.3" y1="919.16" x2="138.6" y2="884.53" stroke="#1fe3e3" stroke-width="0.8"/>
<line x1="130.3" y1="974.58" x2="138.6" y2="938.94" stroke="#1fe3e3" stroke-width="0.8"/>
<line x1="164.6" y1="896.57" x2="164.6" y2="950.71" stroke="#1fe3e3" stroke-width="1"/>
<line x1="156.3" y1="930.86" x2="156.3" y2="986.42" stroke="#1fe3e3" stroke-width="1"/>
<line x1="156.3" y1="930.86" x2="164.6" y2="896.57" stroke="#1fe3e3" stroke-width="0.8"/>
<line x1="156.3" y1="986.42" x2="164.6" y2="950.71" stroke="#1fe3e3" stroke-width="0.8"/>
<line x1="179.7" y1="903.56" x2="179.7" y2="957.55" stroke="#1fe3e3" stroke-width="1"/>
<line x1="171.4" y1="937.65" x2="171.4" y2="993.3" stroke="#1fe3e3" stroke-width="1"/>
<line x1="171.4" y1="937.65" x2="179.7" y2="903.56" stroke="#1fe3e3" stroke-width="0.8"/>
<line x1="171.4" y1="993.3" x2="179.7" y2="957.55" stroke="#1fe3e3" stroke-width="0.8"/>
<line x1="192" y1="909.25" x2="192" y2="963.12" stroke="#1fe3e3" stroke-width="1"/>
<line x1="183.7" y1="943.19" x2="183.7" y2="998.9" stroke="#1fe3e3" stroke-width="1"/>
<line x1="183.7" y1="943.19" x2="192" y2="909.25" stroke="#1fe3e3" stroke-width="0.8"/>
<line x1="183.7" y1="998.9" x2="192" y2="963.12" stroke="#1fe3e3" stroke-width="0.8"/>
<line x1="204.1" y1="914.86" x2="204.1" y2="968.6" stroke="#1fe3e3" stroke-width="1"/>
<line x1="195.8" y1="948.63" x2="195.8" y2="1004.41" stroke="#1fe3e3" stroke-width="1"/>
<line x1="195.8" y1="948.63" x2="204.1" y2="914.86" stroke="#1fe3e3" stroke-width="0.8"/>
<line x1="195.8" y1="1004.41" x2="204.1" y2="968.6" stroke="#1fe3e3" stroke-width="0.8"/>
<line x1="20.6" y1="829.9" x2="208.3" y2="916.8" stroke="#1fe3e3" stroke-width="1.5"/>
<line x1="11.7" y1="865.8" x2="200.4" y2="950.7" stroke="#1fe3e3" stroke-width="1.5"/>
<line x1="20.6" y1="885.5" x2="208.3" y2="970.5" stroke="#1fe3e3" stroke-width="1.5"/>
<line x1="13.5" y1="921.4" x2="200.4" y2="1006.5" stroke="#1fe3e3" stroke-width="1.5"/>
<path d="M11.9,879.5 L14,884.45 L16.1,879.5 M14,884.45 L14,890.5 M11.3,879.9 h1.6 M15.1,879.9 h1.6 M12.6,890.1 h2.8" fill="none" stroke="#b0dc14" stroke-width="1.1"/>
<path d="M11,897.2 L11.8,897.2 L15.3,934.5 L11,934.5 Z" fill="#a6dc10"/>
<line x1="11.5" y1="924.4" x2="6.4" y2="952.4" stroke="#1e8ae6" stroke-width="1.5"/>
<path d="M7.2,933.7 L10.6,933.7 L7.2,943.8 L10.6,943.8" fill="none" stroke="#2a90e6" stroke-width="1"/>
<path d="M11.9,933.8 L26.8,937.3 L26.8,938.5 L11.9,936 Z" fill="#f8f8f8"/>
<path d="M27.2,919.8 L31,930.3 M31,919.8 L27.2,930.3 M26.5,920.2 h1.8 M29.9,920.2 h1.8 M26.5,929.9 h1.8 M29.9,929.9 h1.8" fill="none" stroke="#f4f4f4" stroke-width="1"/>
<rect x="233.8" y="806.8" width="213.3" height="208.1" fill="url(#gA)"/>
<rect x="233.8" y="806.8" width="213.3" height="1" fill="#7e7e7e"/>
<line x1="281.4" y1="836.59" x2="281.4" y2="892.22" stroke="#1fe3e3" stroke-width="1.1"/>
<line x1="267.2" y1="875.89" x2="267.2" y2="932.94" stroke="#1fe3e3" stroke-width="1.1"/>
<line x1="267.2" y1="875.89" x2="281.4" y2="836.59" stroke="#1fe3e3" stroke-width="0.8"/>
<line x1="267.2" y1="932.94" x2="281.4" y2="892.22" stroke="#1fe3e3" stroke-width="0.8"/>
<line x1="300.16" y1="842.2" x2="300.16" y2="897.92" stroke="#1fe3e3" stroke-width="1.1"/>
<line x1="285.96" y1="881.56" x2="285.96" y2="938.48" stroke="#1fe3e3" stroke-width="1.1"/>
<line x1="285.96" y1="881.56" x2="300.16" y2="842.2" stroke="#1fe3e3" stroke-width="0.8"/>
<line x1="285.96" y1="938.48" x2="300.16" y2="897.92" stroke="#1fe3e3" stroke-width="0.8"/>
<line x1="318.92" y1="847.8" x2="318.92" y2="903.62" stroke="#1fe3e3" stroke-width="1.1"/>
<line x1="304.72" y1="887.24" x2="304.72" y2="944.01" stroke="#1fe3e3" stroke-width="1.1"/>
<line x1="304.72" y1="887.24" x2="318.92" y2="847.8" stroke="#1fe3e3" stroke-width="0.8"/>
<line x1="304.72" y1="944.01" x2="318.92" y2="903.62" stroke="#1fe3e3" stroke-width="0.8"/>
<line x1="337.68" y1="853.41" x2="337.68" y2="909.31" stroke="#1fe3e3" stroke-width="1.1"/>
<line x1="323.48" y1="892.91" x2="323.48" y2="949.55" stroke="#1fe3e3" stroke-width="1.1"/>
<line x1="323.48" y1="892.91" x2="337.68" y2="853.41" stroke="#1fe3e3" stroke-width="0.8"/>
<line x1="323.48" y1="949.55" x2="337.68" y2="909.31" stroke="#1fe3e3" stroke-width="0.8"/>
<line x1="356.44" y1="859.01" x2="356.44" y2="915.01" stroke="#1fe3e3" stroke-width="1.1"/>
<line x1="342.24" y1="898.58" x2="342.24" y2="955.08" stroke="#1fe3e3" stroke-width="1.1"/>
<line x1="342.24" y1="898.58" x2="356.44" y2="859.01" stroke="#1fe3e3" stroke-width="0.8"/>
<line x1="342.24" y1="955.08" x2="356.44" y2="915.01" stroke="#1fe3e3" stroke-width="0.8"/>
<line x1="375.2" y1="864.62" x2="375.2" y2="920.71" stroke="#1fe3e3" stroke-width="1.1"/>
<line x1="361" y1="904.26" x2="361" y2="960.62" stroke="#1fe3e3" stroke-width="1.1"/>
<line x1="361" y1="904.26" x2="375.2" y2="864.62" stroke="#1fe3e3" stroke-width="0.8"/>
<line x1="361" y1="960.62" x2="375.2" y2="920.71" stroke="#1fe3e3" stroke-width="0.8"/>
<line x1="393.96" y1="870.22" x2="393.96" y2="926.41" stroke="#1fe3e3" stroke-width="1.1"/>
<line x1="379.76" y1="909.93" x2="379.76" y2="966.15" stroke="#1fe3e3" stroke-width="1.1"/>
<line x1="379.76" y1="909.93" x2="393.96" y2="870.22" stroke="#1fe3e3" stroke-width="0.8"/>
<line x1="379.76" y1="966.15" x2="393.96" y2="926.41" stroke="#1fe3e3" stroke-width="0.8"/>
<line x1="412.72" y1="875.83" x2="412.72" y2="932.1" stroke="#1fe3e3" stroke-width="1.1"/>
<line x1="398.52" y1="915.61" x2="398.52" y2="971.68" stroke="#1fe3e3" stroke-width="1.1"/>
<line x1="398.52" y1="915.61" x2="412.72" y2="875.83" stroke="#1fe3e3" stroke-width="0.8"/>
<line x1="398.52" y1="971.68" x2="412.72" y2="932.1" stroke="#1fe3e3" stroke-width="0.8"/>
<line x1="431.48" y1="881.43" x2="431.48" y2="937.8" stroke="#1fe3e3" stroke-width="1.1"/>
<line x1="417.28" y1="921.28" x2="417.28" y2="977.22" stroke="#1fe3e3" stroke-width="1.1"/>
<line x1="417.28" y1="921.28" x2="431.48" y2="881.43" stroke="#1fe3e3" stroke-width="0.8"/>
<line x1="417.28" y1="977.22" x2="431.48" y2="937.8" stroke="#1fe3e3" stroke-width="0.8"/>
<line x1="275.4" y1="834.8" x2="437.4" y2="883.2" stroke="#1fe3e3" stroke-width="1.35"/>
<line x1="267.1" y1="853.9" x2="430.6" y2="902.5" stroke="#1fe3e3" stroke-width="1.35"/>
<line x1="275.4" y1="862.5" x2="437.4" y2="911.2" stroke="#1fe3e3" stroke-width="1.35"/>
<line x1="260.3" y1="873.8" x2="422.3" y2="922.8" stroke="#1fe3e3" stroke-width="1.35"/>
<line x1="275.4" y1="890.4" x2="437.4" y2="939.6" stroke="#1fe3e3" stroke-width="1.35"/>
<line x1="261" y1="902.5" x2="329" y2="923.03" stroke="#1fe3e3" stroke-width="1.35"/>
<line x1="355" y1="930.88" x2="422.3" y2="951.2" stroke="#1fe3e3" stroke-width="1.35"/>
<line x1="267.1" y1="910.8" x2="430.6" y2="959.5" stroke="#1fe3e3" stroke-width="1.35"/>
<line x1="264" y1="932" x2="422.3" y2="978.7" stroke="#1fe3e3" stroke-width="1.35"/>
<path d="M260.2,893.8 L262.85,897.8 L265.5,893.8 M262.85,897.8 L262.85,902.7 M259.6,894.2 h1.6 M264.5,894.2 h1.6 M261.45,902.3 h2.8" fill="none" stroke="#b0dc14" stroke-width="1.1"/>
<path d="M260.2,908 L261,908 L264.3,936.7 L260.2,936.7 Z" fill="#a6dc10"/>
<line x1="259.8" y1="930.3" x2="254.5" y2="951.4" stroke="#1e8ae6" stroke-width="1.5"/>
<path d="M255.3,937.2 L259.4,937.2 L255.3,944.6 L259.4,944.6" fill="none" stroke="#2a90e6" stroke-width="1"/>
<path d="M260.2,936.3 L278.7,939.9 L278.7,941.1 L260.2,938.5 Z" fill="#f8f8f8"/>
<path d="M278.3,925.5 L283.2,934.4 M283.2,925.5 L278.3,934.4 M277.6,925.9 h1.8 M282.1,925.9 h1.8 M277.6,934 h1.8 M282.1,934 h1.8" fill="none" stroke="#f4f4f4" stroke-width="1"/>
<rect x="459.9" y="803" width="225.1" height="211.8" fill="#b2b2b2"/>
<rect x="459.9" y="803" width="225.1" height="0.8" fill="#acacac"/>
<polygon points="537.9,844.3 610.2,900 631,914.2 636.5,911.5 652.3,923.5 652.3,965.7 649.6,967.9 636.5,981.6 630.4,981.6 617.8,973.4 612.4,974.5 600.3,981 593.2,975.5 593.2,966.8 604.7,955.8 522.2,890.7" fill="#fefefe"/>
<path d="M610,903h1v1h-1zM597,906h1v1h-1zM625,940h1v1h-1zM596,916h1v1h-1zM599,924h1v1h-1zM613,933h1v1h-1zM542,860h1v1h-1zM552,897h1v1h-1zM628,963h1v1h-1zM543,876h1v1h-1zM584,925h1v1h-1zM569,922h1v1h-1zM611,915h1v1h-1zM528,872h1v1h-1zM533,894h1v1h-1zM636,928h1v1h-1zM553,891h1v1h-1zM533,891h1v1h-1zM634,940h1v1h-1zM628,946h1v1h-1zM588,893h1v1h-1zM549,875h1v1h-1zM606,954h1v1h-1zM607,969h1v1h-1zM619,909h1v1h-1zM626,978h1v1h-1zM629,979h1v1h-1zM566,919h1v1h-1zM553,884h1v1h-1zM580,924h1v1h-1zM586,917h1v1h-1zM553,882h1v1h-1zM587,921h1v1h-1zM601,913h1v1h-1zM612,964h1v1h-1zM645,959h1v1h-1zM529,877h1v1h-1zM609,952h1v1h-1zM637,977h1v1h-1zM577,915h1v1h-1zM546,887h1v1h-1zM533,880h1v1h-1zM537,902h1v1h-1zM595,940h1v1h-1zM580,890h1v1h-1zM551,859h1v1h-1zM561,886h1v1h-1zM558,913h1v1h-1zM617,920h1v1h-1zM577,912h1v1h-1zM572,913h1v1h-1zM630,941h1v1h-1zM573,891h1v1h-1zM553,866h1v1h-1zM557,877h1v1h-1zM561,893h1v1h-1zM570,909h1v1h-1zM560,876h1v1h-1zM607,942h1v1h-1zM617,956h1v1h-1zM589,913h1v1h-1zM627,958h1v1h-1zM537,893h1v1h-1zM603,937h1v1h-1zM529,880h1v1h-1zM570,910h1v1h-1zM622,929h1v1h-1zM612,937h1v1h-1zM588,908h1v1h-1zM585,906h1v1h-1zM538,891h1v1h-1zM619,959h1v1h-1zM558,895h1v1h-1zM567,903h1v1h-1zM555,914h1v1h-1zM565,885h1v1h-1zM594,898h1v1h-1zM545,856h1v1h-1zM532,876h1v1h-1zM595,966h1v1h-1zM574,901h1v1h-1zM570,890h1v1h-1zM603,963h1v1h-1zM556,878h1v1h-1zM632,964h1v1h-1zM629,962h1v1h-1zM553,859h1v1h-1zM589,938h1v1h-1zM615,933h1v1h-1zM580,920h1v1h-1zM537,878h1v1h-1zM597,897h1v1h-1zM560,907h1v1h-1zM605,965h1v1h-1zM609,901h1v1h-1zM608,971h1v1h-1zM524,890h1v1h-1zM626,945h1v1h-1zM550,874h1v1h-1zM549,901h1v1h-1zM569,889h1v1h-1zM547,893h1v1h-1zM545,894h1v1h-1zM627,949h1v1h-1zM619,968h1v1h-1zM620,970h1v1h-1zM551,909h1v1h-1zM553,903h1v1h-1zM626,945h1v1h-1zM622,927h1v1h-1zM562,893h1v1h-1zM530,871h1v1h-1zM637,980h1v1h-1zM602,937h1v1h-1zM632,935h1v1h-1zM546,878h1v1h-1zM628,959h1v1h-1zM525,884h1v1h-1zM597,972h1v1h-1zM599,929h1v1h-1zM547,879h1v1h-1zM533,898h1v1h-1zM574,883h1v1h-1zM634,981h1v1h-1zM593,932h1v1h-1zM569,913h1v1h-1zM557,915h1v1h-1zM627,977h1v1h-1zM549,899h1v1h-1zM549,899h1v1h-1zM593,930h1v1h-1zM575,924h1v1h-1zM607,905h1v1h-1zM621,951h1v1h-1zM534,861h1v1h-1zM617,951h1v1h-1zM554,913h1v1h-1zM610,967h1v1h-1zM590,931h1v1h-1zM601,903h1v1h-1zM602,909h1v1h-1zM604,964h1v1h-1zM573,880h1v1h-1zM605,921h1v1h-1zM590,900h1v1h-1zM587,932h1v1h-1zM543,886h1v1h-1zM624,942h1v1h-1zM618,906h1v1h-1zM534,876h1v1h-1zM612,960h1v1h-1zM605,977h1v1h-1zM645,946h1v1h-1zM603,939h1v1h-1zM612,931h1v1h-1zM629,966h1v1h-1zM534,872h1v1h-1zM562,902h1v1h-1zM554,882h1v1h-1zM574,904h1v1h-1zM624,940h1v1h-1zM573,898h1v1h-1zM551,907h1v1h-1zM620,947h1v1h-1zM566,889h1v1h-1zM542,904h1v1h-1zM551,870h1v1h-1zM613,960h1v1h-1zM540,878h1v1h-1zM625,945h1v1h-1zM534,872h1v1h-1zM625,939h1v1h-1zM604,907h1v1h-1zM596,947h1v1h-1zM624,942h1v1h-1zM553,902h1v1h-1zM607,951h1v1h-1zM591,942h1v1h-1zM605,958h1v1h-1zM556,899h1v1h-1zM575,902h1v1h-1zM566,880h1v1h-1zM618,973h1v1h-1zM572,873h1v1h-1zM623,955h1v1h-1zM582,921h1v1h-1zM604,956h1v1h-1zM555,895h1v1h-1zM557,877h1v1h-1zM583,903h1v1h-1zM643,961h1v1h-1zM630,969h1v1h-1zM533,863h1v1h-1zM608,967h1v1h-1zM586,918h1v1h-1zM582,921h1v1h-1zM601,938h1v1h-1zM587,910h1v1h-1zM583,916h1v1h-1zM548,904h1v1h-1zM573,913h1v1h-1zM607,953h1v1h-1zM562,885h1v1h-1zM604,952h1v1h-1zM616,966h1v1h-1zM526,885h1v1h-1zM600,934h1v1h-1zM603,940h1v1h-1zM533,869h1v1h-1zM623,970h1v1h-1zM624,921h1v1h-1zM560,902h1v1h-1zM577,932h1v1h-1zM571,925h1v1h-1zM540,846h1v1h-1zM614,962h1v1h-1zM568,923h1v1h-1zM605,930h1v1h-1zM561,903h1v1h-1zM600,967h1v1h-1zM554,902h1v1h-1zM628,966h1v1h-1zM630,956h1v1h-1zM619,972h1v1h-1zM600,937h1v1h-1zM547,879h1v1h-1zM597,967h1v1h-1zM589,909h1v1h-1zM545,870h1v1h-1zM595,899h1v1h-1zM544,855h1v1h-1zM599,898h1v1h-1zM595,932h1v1h-1zM554,892h1v1h-1zM640,959h1v1h-1zM624,941h1v1h-1zM598,948h1v1h-1zM563,879h1v1h-1zM583,930h1v1h-1zM614,920h1v1h-1zM583,883h1v1h-1zM546,894h1v1h-1zM532,883h1v1h-1zM622,942h1v1h-1zM600,912h1v1h-1zM614,955h1v1h-1zM569,926h1v1h-1zM589,905h1v1h-1zM628,963h1v1h-1zM588,917h1v1h-1zM549,869h1v1h-1zM596,916h1v1h-1zM586,882h1v1h-1zM598,962h1v1h-1zM596,947h1v1h-1zM629,973h1v1h-1zM551,890h1v1h-1zM628,960h1v1h-1zM576,931h1v1h-1zM577,913h1v1h-1zM623,973h1v1h-1zM627,966h1v1h-1zM558,886h1v1h-1zM555,908h1v1h-1zM537,884h1v1h-1zM558,877h1v1h-1zM601,922h1v1h-1zM581,919h1v1h-1zM582,886h1v1h-1zM570,924h1v1h-1zM571,904h1v1h-1zM534,875h1v1h-1zM564,892h1v1h-1zM601,961h1v1h-1zM618,948h1v1h-1zM624,941h1v1h-1zM580,907h1v1h-1zM558,897h1v1h-1zM547,902h1v1h-1zM588,915h1v1h-1zM571,893h1v1h-1zM609,916h1v1h-1zM569,899h1v1h-1zM596,965h1v1h-1zM584,904h1v1h-1zM542,887h1v1h-1zM629,914h1v1h-1zM558,914h1v1h-1zM545,869h1v1h-1zM596,900h1v1h-1zM534,857h1v1h-1zM542,880h1v1h-1zM579,897h1v1h-1zM578,929h1v1h-1zM639,956h1v1h-1zM600,976h1v1h-1zM549,886h1v1h-1zM552,867h1v1h-1zM571,899h1v1h-1zM566,877h1v1h-1zM557,876h1v1h-1zM532,881h1v1h-1zM631,955h1v1h-1zM607,922h1v1h-1zM568,913h1v1h-1zM528,886h1v1h-1zM557,899h1v1h-1zM623,965h1v1h-1zM537,882h1v1h-1zM610,935h1v1h-1zM617,942h1v1h-1zM546,885h1v1h-1zM525,886h1v1h-1zM595,942h1v1h-1zM630,951h1v1h-1zM619,958h1v1h-1zM611,945h1v1h-1zM603,906h1v1h-1zM613,955h1v1h-1zM604,919h1v1h-1zM527,893h1v1h-1zM546,886h1v1h-1zM614,936h1v1h-1zM558,893h1v1h-1zM528,882h1v1h-1zM613,905h1v1h-1zM563,908h1v1h-1zM542,853h1v1h-1zM651,947h1v1h-1zM585,903h1v1h-1zM552,863h1v1h-1zM623,959h1v1h-1zM632,971h1v1h-1zM624,958h1v1h-1zM562,894h1v1h-1zM595,930h1v1h-1zM613,968h1v1h-1zM585,912h1v1h-1zM541,905h1v1h-1zM588,902h1v1h-1zM629,968h1v1h-1zM559,905h1v1h-1zM566,870h1v1h-1zM563,907h1v1h-1zM595,975h1v1h-1zM610,905h1v1h-1zM597,901h1v1h-1zM595,898h1v1h-1zM553,911h1v1h-1zM593,942h1v1h-1zM527,876h1v1h-1zM548,885h1v1h-1zM602,964h1v1h-1zM642,964h1v1h-1zM621,937h1v1h-1zM536,895h1v1h-1zM646,943h1v1h-1zM545,905h1v1h-1zM591,939h1v1h-1zM636,928h1v1h-1zM542,893h1v1h-1zM596,897h1v1h-1zM556,913h1v1h-1zM595,916h1v1h-1zM566,920h1v1h-1zM528,890h1v1h-1zM568,877h1v1h-1zM580,905h1v1h-1zM560,867h1v1h-1zM560,886h1v1h-1zM593,973h1v1h-1zM642,924h1v1h-1zM556,879h1v1h-1zM541,880h1v1h-1zM549,899h1v1h-1zM600,963h1v1h-1zM648,926h1v1h-1zM627,964h1v1h-1zM605,971h1v1h-1zM585,926h1v1h-1zM532,865h1v1h-1zM591,925h1v1h-1zM607,927h1v1h-1zM614,949h1v1h-1zM557,916h1v1h-1zM583,934h1v1h-1zM618,971h1v1h-1zM586,931h1v1h-1zM553,880h1v1h-1zM634,963h1v1h-1zM619,957h1v1h-1zM564,911h1v1h-1zM599,906h1v1h-1zM623,963h1v1h-1zM634,981h1v1h-1zM532,890h1v1h-1zM615,965h1v1h-1zM625,939h1v1h-1zM538,903h1v1h-1zM618,913h1v1h-1zM567,912h1v1h-1zM637,944h1v1h-1zM543,880h1v1h-1zM574,920h1v1h-1zM606,919h1v1h-1zM562,901h1v1h-1zM571,897h1v1h-1zM601,896h1v1h-1zM624,969h1v1h-1zM605,919h1v1h-1zM619,961h1v1h-1zM589,928h1v1h-1zM615,916h1v1h-1zM590,916h1v1h-1zM581,932h1v1h-1zM638,963h1v1h-1zM540,878h1v1h-1zM589,906h1v1h-1zM626,948h1v1h-1zM569,890h1v1h-1zM556,888h1v1h-1zM604,962h1v1h-1zM602,895h1v1h-1zM578,894h1v1h-1zM559,900h1v1h-1zM571,923h1v1h-1zM570,916h1v1h-1zM639,948h1v1h-1zM598,907h1v1h-1zM578,911h1v1h-1zM629,936h1v1h-1zM610,920h1v1h-1zM620,921h1v1h-1zM610,942h1v1h-1zM575,924h1v1h-1zM628,964h1v1h-1zM564,915h1v1h-1zM554,887h1v1h-1zM626,962h1v1h-1zM591,895h1v1h-1zM585,924h1v1h-1zM642,920h1v1h-1zM561,917h1v1h-1zM595,888h1v1h-1zM614,954h1v1h-1zM586,936h1v1h-1zM547,857h1v1h-1zM624,975h1v1h-1zM640,938h1v1h-1zM559,876h1v1h-1zM562,921h1v1h-1zM558,892h1v1h-1zM531,863h1v1h-1zM638,960h1v1h-1zM599,977h1v1h-1zM645,934h1v1h-1zM564,906h1v1h-1zM624,926h1v1h-1zM566,895h1v1h-1zM585,917h1v1h-1zM591,913h1v1h-1zM546,899h1v1h-1zM536,877h1v1h-1zM595,939h1v1h-1zM572,915h1v1h-1zM602,939h1v1h-1zM574,900h1v1h-1zM546,874h1v1h-1zM632,952h1v1h-1zM609,946h1v1h-1zM630,973h1v1h-1zM619,958h1v1h-1zM624,964h1v1h-1zM648,952h1v1h-1zM546,907h1v1h-1zM611,942h1v1h-1zM624,953h1v1h-1zM645,957h1v1h-1zM575,927h1v1h-1zM564,873h1v1h-1zM531,881h1v1h-1zM578,935h1v1h-1zM544,881h1v1h-1zM601,967h1v1h-1zM638,935h1v1h-1zM609,969h1v1h-1zM610,920h1v1h-1zM619,966h1v1h-1zM646,967h1v1h-1zM598,923h1v1h-1zM606,955h1v1h-1zM614,939h1v1h-1zM629,953h1v1h-1zM559,896h1v1h-1zM546,888h1v1h-1zM534,879h1v1h-1zM604,951h1v1h-1zM582,921h1v1h-1zM629,922h1v1h-1zM534,886h1v1h-1zM645,946h1v1h-1zM590,915h1v1h-1zM574,913h1v1h-1zM608,923h1v1h-1zM606,965h1v1h-1zM613,941h1v1h-1zM556,873h1v1h-1zM649,954h1v1h-1zM538,881h1v1h-1zM579,920h1v1h-1zM534,874h1v1h-1zM565,889h1v1h-1zM627,918h1v1h-1zM587,902h1v1h-1zM603,943h1v1h-1zM573,914h1v1h-1zM614,906h1v1h-1zM545,899h1v1h-1zM588,904h1v1h-1zM616,930h1v1h-1zM543,893h1v1h-1zM533,858h1v1h-1zM627,960h1v1h-1zM597,896h1v1h-1zM630,952h1v1h-1zM546,906h1v1h-1zM604,941h1v1h-1zM606,939h1v1h-1zM550,898h1v1h-1zM649,954h1v1h-1zM609,972h1v1h-1zM624,966h1v1h-1zM586,929h1v1h-1zM558,898h1v1h-1zM630,955h1v1h-1zM547,903h1v1h-1zM617,961h1v1h-1zM533,894h1v1h-1zM600,979h1v1h-1zM599,915h1v1h-1zM574,928h1v1h-1zM559,892h1v1h-1zM621,959h1v1h-1zM553,900h1v1h-1zM622,950h1v1h-1zM625,917h1v1h-1zM531,873h1v1h-1zM611,946h1v1h-1zM553,879h1v1h-1zM605,925h1v1h-1zM599,939h1v1h-1zM533,885h1v1h-1zM626,936h1v1h-1zM607,925h1v1h-1zM544,863h1v1h-1zM606,922h1v1h-1zM568,916h1v1h-1zM557,896h1v1h-1zM549,870h1v1h-1zM571,894h1v1h-1zM543,875h1v1h-1zM535,853h1v1h-1zM648,962h1v1h-1zM548,855h1v1h-1zM580,887h1v1h-1zM586,927h1v1h-1zM544,875h1v1h-1zM597,973h1v1h-1zM583,914h1v1h-1zM562,900h1v1h-1zM580,921h1v1h-1zM538,877h1v1h-1zM597,966h1v1h-1zM608,962h1v1h-1zM627,934h1v1h-1zM535,877h1v1h-1zM639,976h1v1h-1zM551,894h1v1h-1zM618,930h1v1h-1zM609,954h1v1h-1zM583,937h1v1h-1zM647,952h1v1h-1zM547,900h1v1h-1zM608,949h1v1h-1zM549,873h1v1h-1zM574,902h1v1h-1zM597,974h1v1h-1zM621,959h1v1h-1zM604,941h1v1h-1zM599,961h1v1h-1zM564,916h1v1h-1zM575,910h1v1h-1zM625,944h1v1h-1zM643,921h1v1h-1zM614,954h1v1h-1zM552,879h1v1h-1zM590,943h1v1h-1zM611,928h1v1h-1zM547,886h1v1h-1zM554,865h1v1h-1zM622,958h1v1h-1zM647,953h1v1h-1zM571,910h1v1h-1zM562,909h1v1h-1zM644,929h1v1h-1zM580,931h1v1h-1zM581,929h1v1h-1zM526,883h1v1h-1zM537,858h1v1h-1zM576,890h1v1h-1zM535,879h1v1h-1zM565,878h1v1h-1zM629,963h1v1h-1zM600,968h1v1h-1zM568,895h1v1h-1zM574,931h1v1h-1zM616,948h1v1h-1zM632,965h1v1h-1zM624,964h1v1h-1zM565,878h1v1h-1zM581,899h1v1h-1zM604,967h1v1h-1zM639,945h1v1h-1zM636,923h1v1h-1zM588,910h1v1h-1zM637,935h1v1h-1zM577,896h1v1h-1zM560,889h1v1h-1zM586,936h1v1h-1zM603,954h1v1h-1zM556,901h1v1h-1zM615,947h1v1h-1zM553,915h1v1h-1zM600,968h1v1h-1zM597,943h1v1h-1zM614,942h1v1h-1zM631,971h1v1h-1zM625,937h1v1h-1zM581,932h1v1h-1zM552,871h1v1h-1zM574,929h1v1h-1zM541,874h1v1h-1zM545,887h1v1h-1zM567,902h1v1h-1zM632,944h1v1h-1zM603,970h1v1h-1zM608,945h1v1h-1zM539,894h1v1h-1zM593,899h1v1h-1zM562,910h1v1h-1zM566,917h1v1h-1zM605,909h1v1h-1zM571,928h1v1h-1zM554,895h1v1h-1zM539,875h1v1h-1zM615,969h1v1h-1zM593,971h1v1h-1zM614,930h1v1h-1zM541,868h1v1h-1zM577,897h1v1h-1zM543,868h1v1h-1zM624,915h1v1h-1zM609,922h1v1h-1zM625,952h1v1h-1zM533,882h1v1h-1zM617,933h1v1h-1zM556,895h1v1h-1zM576,922h1v1h-1zM581,908h1v1h-1zM535,869h1v1h-1zM601,978h1v1h-1zM593,899h1v1h-1zM568,920h1v1h-1zM592,887h1v1h-1zM547,861h1v1h-1zM603,921h1v1h-1zM608,938h1v1h-1zM539,894h1v1h-1zM553,863h1v1h-1zM586,923h1v1h-1zM574,919h1v1h-1zM571,890h1v1h-1zM606,902h1v1h-1zM552,865h1v1h-1zM613,903h1v1h-1zM632,933h1v1h-1zM587,890h1v1h-1zM618,942h1v1h-1zM572,871h1v1h-1zM549,899h1v1h-1zM597,943h1v1h-1zM616,963h1v1h-1zM598,977h1v1h-1zM588,910h1v1h-1zM569,914h1v1h-1zM549,882h1v1h-1zM587,901h1v1h-1zM613,951h1v1h-1zM587,895h1v1h-1zM580,893h1v1h-1zM607,937h1v1h-1zM528,893h1v1h-1zM625,945h1v1h-1zM569,881h1v1h-1zM614,967h1v1h-1zM544,865h1v1h-1zM642,961h1v1h-1zM633,966h1v1h-1zM572,926h1v1h-1zM597,923h1v1h-1zM524,888h1v1h-1zM600,914h1v1h-1zM548,886h1v1h-1zM625,955h1v1h-1zM623,960h1v1h-1zM533,879h1v1h-1zM569,903h1v1h-1zM567,890h1v1h-1zM607,917h1v1h-1zM565,901h1v1h-1zM567,899h1v1h-1zM608,935h1v1h-1zM586,909h1v1h-1zM592,929h1v1h-1zM595,947h1v1h-1zM629,934h1v1h-1zM630,915h1v1h-1zM630,939h1v1h-1zM523,890h1v1h-1zM536,866h1v1h-1zM627,945h1v1h-1zM593,928h1v1h-1zM619,958h1v1h-1zM568,914h1v1h-1zM619,964h1v1h-1zM547,891h1v1h-1zM582,913h1v1h-1zM532,882h1v1h-1zM584,896h1v1h-1zM548,904h1v1h-1zM609,975h1v1h-1zM591,904h1v1h-1zM595,918h1v1h-1zM596,933h1v1h-1zM605,939h1v1h-1zM593,945h1v1h-1zM631,964h1v1h-1zM559,907h1v1h-1zM624,943h1v1h-1zM612,951h1v1h-1zM578,904h1v1h-1zM543,900h1v1h-1zM594,907h1v1h-1zM603,931h1v1h-1zM605,934h1v1h-1zM586,901h1v1h-1zM570,904h1v1h-1zM605,958h1v1h-1zM547,904h1v1h-1zM594,901h1v1h-1zM549,855h1v1h-1zM575,878h1v1h-1zM599,963h1v1h-1zM598,943h1v1h-1zM559,881h1v1h-1zM569,900h1v1h-1zM628,928h1v1h-1zM627,921h1v1h-1zM545,907h1v1h-1zM606,938h1v1h-1zM572,902h1v1h-1zM612,946h1v1h-1zM573,922h1v1h-1zM615,973h1v1h-1zM561,894h1v1h-1zM542,865h1v1h-1zM548,890h1v1h-1zM560,880h1v1h-1zM550,878h1v1h-1zM597,913h1v1h-1zM614,955h1v1h-1zM555,899h1v1h-1zM614,923h1v1h-1zM603,926h1v1h-1zM628,922h1v1h-1zM533,889h1v1h-1zM625,931h1v1h-1zM623,924h1v1h-1zM560,911h1v1h-1zM605,913h1v1h-1zM546,890h1v1h-1zM569,911h1v1h-1zM626,926h1v1h-1zM599,964h1v1h-1zM636,935h1v1h-1zM595,970h1v1h-1zM581,920h1v1h-1zM604,917h1v1h-1zM590,927h1v1h-1zM598,975h1v1h-1zM588,897h1v1h-1zM556,912h1v1h-1zM572,919h1v1h-1zM528,889h1v1h-1zM537,885h1v1h-1zM626,914h1v1h-1zM629,957h1v1h-1zM644,955h1v1h-1zM621,950h1v1h-1zM630,979h1v1h-1zM630,971h1v1h-1zM610,938h1v1h-1zM612,936h1v1h-1zM623,949h1v1h-1zM533,882h1v1h-1zM541,858h1v1h-1zM531,878h1v1h-1zM614,952h1v1h-1zM571,884h1v1h-1zM604,910h1v1h-1zM642,973h1v1h-1zM554,879h1v1h-1zM540,903h1v1h-1zM618,971h1v1h-1zM560,915h1v1h-1zM579,908h1v1h-1zM569,901h1v1h-1zM575,892h1v1h-1zM598,918h1v1h-1zM553,887h1v1h-1zM591,917h1v1h-1zM642,957h1v1h-1zM599,934h1v1h-1zM621,931h1v1h-1zM617,936h1v1h-1zM591,926h1v1h-1zM546,886h1v1h-1zM532,892h1v1h-1zM532,878h1v1h-1zM619,939h1v1h-1zM563,888h1v1h-1zM548,860h1v1h-1zM535,868h1v1h-1zM596,905h1v1h-1zM583,889h1v1h-1zM637,927h1v1h-1zM643,966h1v1h-1zM566,912h1v1h-1zM525,881h1v1h-1zM564,898h1v1h-1zM622,947h1v1h-1zM560,919h1v1h-1zM613,944h1v1h-1zM578,926h1v1h-1zM608,924h1v1h-1zM631,944h1v1h-1zM612,912h1v1h-1zM555,877h1v1h-1zM606,922h1v1h-1zM588,914h1v1h-1zM563,887h1v1h-1zM593,926h1v1h-1zM542,891h1v1h-1zM627,978h1v1h-1zM619,933h1v1h-1zM588,921h1v1h-1zM606,934h1v1h-1zM576,902h1v1h-1zM594,893h1v1h-1zM579,925h1v1h-1zM636,973h1v1h-1zM581,888h1v1h-1zM638,959h1v1h-1zM634,962h1v1h-1zM598,979h1v1h-1zM644,929h1v1h-1zM598,902h1v1h-1zM643,944h1v1h-1zM550,891h1v1h-1zM563,904h1v1h-1zM574,930h1v1h-1zM542,886h1v1h-1zM554,904h1v1h-1zM542,870h1v1h-1zM548,889h1v1h-1zM581,916h1v1h-1zM543,890h1v1h-1zM614,903h1v1h-1zM593,889h1v1h-1zM558,882h1v1h-1zM625,952h1v1h-1zM637,934h1v1h-1zM629,924h1v1h-1zM557,881h1v1h-1zM544,904h1v1h-1zM607,914h1v1h-1zM543,877h1v1h-1zM583,920h1v1h-1zM611,953h1v1h-1zM541,899h1v1h-1zM571,920h1v1h-1zM531,889h1v1h-1zM562,900h1v1h-1zM625,953h1v1h-1zM562,914h1v1h-1zM531,870h1v1h-1zM590,920h1v1h-1zM574,920h1v1h-1zM605,955h1v1h-1zM639,947h1v1h-1zM624,937h1v1h-1zM539,890h1v1h-1zM652,933h1v1h-1zM562,880h1v1h-1zM630,976h1v1h-1zM594,926h1v1h-1zM617,939h1v1h-1zM582,908h1v1h-1zM543,881h1v1h-1zM563,886h1v1h-1zM553,894h1v1h-1zM617,936h1v1h-1zM574,921h1v1h-1zM544,900h1v1h-1zM537,879h1v1h-1zM634,965h1v1h-1zM599,894h1v1h-1zM534,874h1v1h-1zM562,909h1v1h-1zM611,928h1v1h-1zM544,907h1v1h-1zM594,889h1v1h-1zM603,945h1v1h-1zM578,934h1v1h-1zM547,891h1v1h-1zM528,886h1v1h-1zM589,931h1v1h-1zM602,918h1v1h-1zM553,888h1v1h-1zM589,902h1v1h-1zM630,936h1v1h-1zM565,892h1v1h-1zM616,955h1v1h-1zM536,888h1v1h-1zM622,954h1v1h-1zM585,940h1v1h-1zM613,966h1v1h-1zM574,922h1v1h-1zM532,886h1v1h-1zM617,928h1v1h-1zM616,957h1v1h-1zM572,881h1v1h-1zM542,880h1v1h-1zM527,885h1v1h-1zM596,931h1v1h-1zM534,874h1v1h-1zM570,872h1v1h-1zM554,877h1v1h-1zM575,893h1v1h-1zM618,912h1v1h-1zM629,967h1v1h-1zM586,921h1v1h-1zM609,930h1v1h-1zM635,968h1v1h-1zM628,958h1v1h-1zM596,936h1v1h-1zM538,882h1v1h-1zM552,864h1v1h-1zM598,917h1v1h-1zM576,918h1v1h-1zM615,932h1v1h-1zM649,948h1v1h-1zM595,904h1v1h-1zM614,911h1v1h-1zM613,944h1v1h-1zM579,893h1v1h-1zM582,917h1v1h-1zM579,892h1v1h-1zM590,897h1v1h-1zM566,888h1v1h-1zM547,894h1v1h-1zM578,923h1v1h-1zM605,926h1v1h-1zM549,881h1v1h-1zM624,942h1v1h-1zM583,879h1v1h-1zM541,877h1v1h-1zM588,924h1v1h-1zM615,918h1v1h-1zM630,973h1v1h-1zM571,906h1v1h-1zM618,968h1v1h-1zM544,882h1v1h-1zM597,905h1v1h-1zM630,939h1v1h-1zM625,949h1v1h-1zM535,873h1v1h-1zM601,930h1v1h-1zM601,950h1v1h-1zM535,874h1v1h-1zM569,903h1v1h-1zM554,914h1v1h-1zM586,893h1v1h-1zM633,937h1v1h-1zM541,894h1v1h-1zM610,924h1v1h-1zM548,879h1v1h-1zM605,923h1v1h-1zM593,970h1v1h-1zM587,909h1v1h-1zM599,934h1v1h-1zM631,927h1v1h-1zM613,971h1v1h-1zM605,955h1v1h-1zM635,941h1v1h-1zM544,889h1v1h-1zM607,933h1v1h-1zM614,907h1v1h-1zM550,865h1v1h-1zM613,929h1v1h-1zM608,916h1v1h-1zM595,914h1v1h-1zM585,896h1v1h-1zM640,934h1v1h-1zM627,933h1v1h-1zM574,893h1v1h-1zM529,893h1v1h-1zM591,912h1v1h-1zM639,977h1v1h-1zM576,927h1v1h-1zM635,967h1v1h-1zM606,934h1v1h-1zM568,909h1v1h-1zM629,953h1v1h-1zM627,930h1v1h-1zM543,890h1v1h-1zM634,951h1v1h-1zM528,889h1v1h-1zM590,931h1v1h-1zM556,916h1v1h-1zM554,902h1v1h-1zM577,901h1v1h-1zM559,903h1v1h-1zM558,907h1v1h-1zM615,934h1v1h-1zM551,877h1v1h-1zM627,937h1v1h-1zM600,934h1v1h-1zM532,894h1v1h-1zM569,914h1v1h-1zM578,902h1v1h-1zM596,964h1v1h-1zM606,920h1v1h-1zM547,869h1v1h-1zM572,920h1v1h-1zM600,920h1v1h-1zM607,916h1v1h-1zM548,900h1v1h-1zM611,929h1v1h-1zM629,937h1v1h-1zM593,974h1v1h-1zM591,907h1v1h-1zM612,972h1v1h-1zM592,892h1v1h-1zM637,963h1v1h-1zM619,955h1v1h-1zM564,914h1v1h-1zM572,901h1v1h-1zM547,852h1v1h-1zM556,914h1v1h-1zM575,883h1v1h-1zM590,936h1v1h-1zM562,874h1v1h-1zM587,931h1v1h-1zM615,924h1v1h-1zM592,942h1v1h-1zM583,909h1v1h-1zM554,872h1v1h-1zM637,945h1v1h-1zM644,931h1v1h-1zM589,912h1v1h-1zM628,966h1v1h-1zM614,962h1v1h-1zM587,923h1v1h-1zM626,963h1v1h-1zM592,937h1v1h-1zM630,952h1v1h-1zM536,888h1v1h-1zM552,909h1v1h-1zM561,902h1v1h-1zM606,965h1v1h-1zM624,951h1v1h-1zM572,906h1v1h-1zM598,966h1v1h-1zM556,869h1v1h-1zM632,970h1v1h-1zM553,913h1v1h-1zM553,909h1v1h-1zM540,860h1v1h-1zM626,960h1v1h-1z" fill="#35bcc4"/>
<polygon points="510.4,820.1 518,823.9 524.6,820.1 536,832.9 538.3,836.7 537.9,844.3 537.5,858 536.9,868.9 533.1,878.4 520.8,891.7 511.3,896.4 505.6,892.6 498,887 497.6,873.7 491.4,868.9 491.4,839.5 494.2,831.9 500.9,827.2" fill="#00fbfb" stroke="#30e8e8" stroke-width="1" stroke-dasharray="1 1"/>
<path d="M500.1,852.8 L501.1,852.8 L503.2,877.5 L500.6,877.5 Z" fill="#a8c818"/>
<path d="M501.8,866 L503.2,877.5 L501.6,877.5 Z" fill="#6a7a10"/>
<path d="M500.6,839.8 L503.5,843.22 L506.4,839.8 M503.5,843.22 L503.5,847.4 M500,840.2 h1.6 M505.4,840.2 h1.6 M502.1,847 h2.8" fill="none" stroke="#c0e020" stroke-width="1.1"/>
<line x1="501" y1="873.5" x2="485.4" y2="887.8" stroke="#2a86d8" stroke-width="1.6"/>
<path d="M486.4,874.8 L490.7,874.8 L486.4,882 L490.7,882" fill="none" stroke="#3a90e0" stroke-width="1"/>
<line x1="499.5" y1="876.5" x2="516" y2="887.4" stroke="#ffffff" stroke-width="1.5"/>
<path d="M517,874.4 L521.2,882 M521.2,874.4 L517,882 M516.3,874.8 h1.8 M520.1,874.8 h1.8 M516.3,881.6 h1.8 M520.1,881.6 h1.8" fill="none" stroke="#ffffff" stroke-width="1.1"/>
<line x1="593.4" y1="967.3" x2="593.4" y2="999" stroke="#ee1010" stroke-width="0.8"/>
<line x1="595.1" y1="967.3" x2="595.1" y2="999" stroke="#ee1010" stroke-width="0.8"/>
<line x1="597.7" y1="967.3" x2="597.7" y2="999" stroke="#ee1010" stroke-width="0.8"/>
<line x1="600.3" y1="967.3" x2="600.3" y2="999" stroke="#ee1010" stroke-width="0.8"/>
<path d="M590.6,996 L592.5,994.5 L594,998 L596,996 L598,999 L600.5,997.5 L601.5,1003 L599.5,1006 L596,1002.5 L592.5,1001 Z" fill="#ff0c0c"/>
<path d="M641.5,976 L647,968 L650.5,973.5 L645,976.5 Z M642.5,978.5 L638.5,990 L644.5,989.5 Z" fill="none" stroke="#22e4e4" stroke-width="1.1"/>
<text x="29.13" y="1055.1" font-size="16.2" style="font-family:&quot;Liberation Serif&quot;,serif" textLength="19.04" lengthAdjust="spacingAndGlyphs" fill="#000">(a)</text>
<text x="59.6" y="1055.1" font-size="16.2" style="font-family:&quot;Liberation Serif&quot;,serif" textLength="135.18" lengthAdjust="spacingAndGlyphs" fill="#000">Makhlouf [7]-model</text>
<text x="244.62" y="1055.1" font-size="16.2" style="font-family:&quot;Liberation Serif&quot;,serif" textLength="20.19" lengthAdjust="spacingAndGlyphs" fill="#000">(b)</text>
<text x="272.81" y="1055.1" font-size="16.2" style="font-family:&quot;Liberation Serif&quot;,serif" textLength="153.52" lengthAdjust="spacingAndGlyphs" fill="#000">Eltaly et al. [13]-model</text>
<text x="460.23" y="1055.1" font-size="16.2" style="font-family:&quot;Liberation Serif&quot;,serif" textLength="19.04" lengthAdjust="spacingAndGlyphs" fill="#000">(c)</text>
<text x="487.52" y="1055.1" font-size="16.2" style="font-family:&quot;Liberation Serif&quot;,serif" textLength="166.36" lengthAdjust="spacingAndGlyphs" fill="#000">Ibrahim et al. [14]-model</text>
</svg>
</body></html>
